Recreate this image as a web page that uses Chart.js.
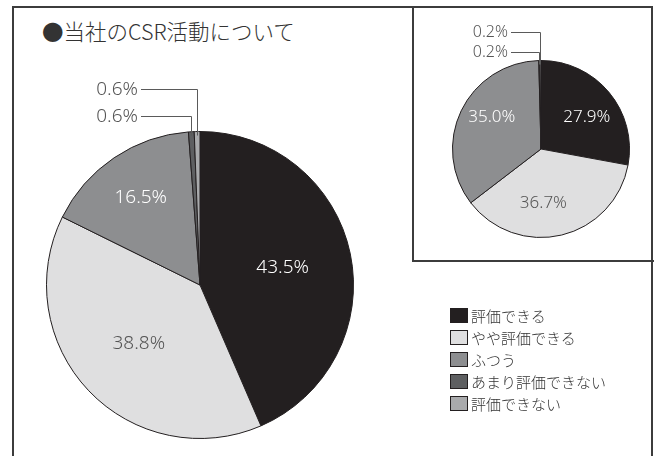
<!DOCTYPE html>
<html>
<head>
<meta charset="utf-8">
<script src="https://cdn.jsdelivr.net/npm/chart.js@4/dist/chart.umd.min.js"></script>
<style>
  body { margin: 0; background: #fff; font-family: "Noto Sans CJK JP", "Noto Sans", sans-serif; }
  #wrap { position: relative; width: 656px; height: 456px; overflow: hidden; }
  #frame { position: absolute; left: 12px; top: 6px; width: 637px; height: 470px; border: 2px solid #3c3c3c; }
  #insetBox { position: absolute; left: 412px; top: 6px; width: 240px; height: 254px; border-left: 2px solid #3c3c3c; border-bottom: 2px solid #3c3c3c; }
  canvas { position: absolute; left: 0; top: 0; }
  #title { position: absolute; left: 42px; top: 18px; font-size: 21.5px; font-weight: 300; line-height: 26px; color: #333; white-space: nowrap; }
  #legend { position: absolute; left: 450px; top: 304px; }
  .row { height: 22px; display: flex; align-items: center; font-size: 15px; font-weight: 300; color: #333; white-space: nowrap; }
  .box { width: 18px; height: 15px; box-sizing: border-box; border: 1px solid #231f20; margin-right: 3px; }
</style>
</head>
<body>
<div id="wrap">
  <div id="frame"></div>
  <div id="insetBox"></div>
  <div id="title">●当社のCSR活動について</div>
  <canvas id="mainPie" width="656" height="456"></canvas>
  <canvas id="insetPie" width="656" height="456"></canvas>
  <div id="legend"></div>
</div>
<script>
const categories = ['評価できる', 'やや評価できる', 'ふつう', 'あまり評価できない', '評価できない'];
const mainValues = [43.5, 38.8, 16.5, 0.6, 0.6];
const insetValues = [27.9, 36.7, 35.0, 0.2, 0.2];

const sliceColors = ['#231f20', '#dfdfe0', '#8d8e90', '#5e5f61', '#a9aaac'];
const labelColors = ['#ffffff', '#555555', '#ffffff'];

// labels inside the big slices, leader lines for the tiny ones
const sliceLabels = {
    id: 'sliceLabels',
    afterDatasetsDraw(chart, args, opts) {
        const ctx = chart.ctx;
        const meta = chart.getDatasetMeta(0);
        const values = chart.data.datasets[0].data;
        const nInside = opts.inside.length;
        ctx.save();
        ctx.textBaseline = 'middle';
        meta.data.forEach((arc, i) => {
            const p = arc.getProps(['x', 'y', 'startAngle', 'endAngle', 'outerRadius'], true);
            const mid = (p.startAngle + p.endAngle) / 2;
            const text = values[i].toFixed(1) + '%';
            if (i < nInside) {
                const a = mid + (opts.shift[i] || 0) * Math.PI / 180;
                const r = p.outerRadius * opts.inside[i];
                ctx.font = opts.font;
                ctx.fillStyle = labelColors[i];
                ctx.textAlign = 'center';
                ctx.fillText(text, p.x + Math.cos(a) * r, p.y + Math.sin(a) * r);
            } else {
                const ly = opts.calloutY[i - nInside] + 0.5;
                const px = Math.round(p.x + Math.cos(mid) * p.outerRadius) + 0.5;
                const py = p.y + Math.sin(mid) * (p.outerRadius - 4);
                ctx.strokeStyle = '#5a5a5a';
                ctx.lineWidth = 1;
                ctx.beginPath();
                ctx.moveTo(opts.lineStart, ly);
                ctx.lineTo(px, ly);
                ctx.lineTo(px, py);
                ctx.stroke();
                ctx.font = opts.calloutFont;
                ctx.fillStyle = '#555';
                ctx.textAlign = 'right';
                ctx.fillText(text, opts.lineStart - 3, ly);
            }
        });
        ctx.restore();
    }
};

function pieConfig(values, padding, labelOpts) {
    return {
        type: 'pie',
        data: {
            labels: categories,
            datasets: [{
                data: values,
                backgroundColor: sliceColors,
                borderColor: '#231f20',
                borderWidth: 1,
            }]
        },
        options: {
            responsive: false,
            animation: false,
            layout: { padding: padding },
            plugins: {
                legend: { display: false },
                tooltip: { enabled: false },
                sliceLabels: labelOpts
            }
        },
        plugins: [sliceLabels]
    };
}

const mainChart = new Chart(
    document.getElementById('mainPie'),
    pieConfig(mainValues, { left: 46, right: 302, top: 131, bottom: 17 }, {
        inside: [0.55, 0.55, 0.69],
        shift: [0, 0, 0],
        calloutY: [116, 89],
        lineStart: 141,
        font: '300 19px "Noto Sans", sans-serif',
        calloutFont: '300 19px "Noto Sans", sans-serif'
    })
);

const insetChart = new Chart(
    document.getElementById('insetPie'),
    pieConfig(insetValues, { left: 452, right: 26, top: 60, bottom: 218 }, {
        inside: [0.63, 0.61, 0.66],
        shift: [5, 11, 7],
        calloutY: [52, 32],
        lineStart: 511,
        font: '300 17px "Noto Sans", sans-serif',
        calloutFont: '300 16px "Noto Sans", sans-serif'
    })
);

// legend
const legend = document.getElementById('legend');
categories.forEach((name, i) => {
    const row = document.createElement('div');
    row.className = 'row';
    const box = document.createElement('div');
    box.className = 'box';
    box.style.background = sliceColors[i];
    row.appendChild(box);
    row.appendChild(document.createTextNode(name));
    legend.appendChild(row);
});
</script>
</body>
</html>
